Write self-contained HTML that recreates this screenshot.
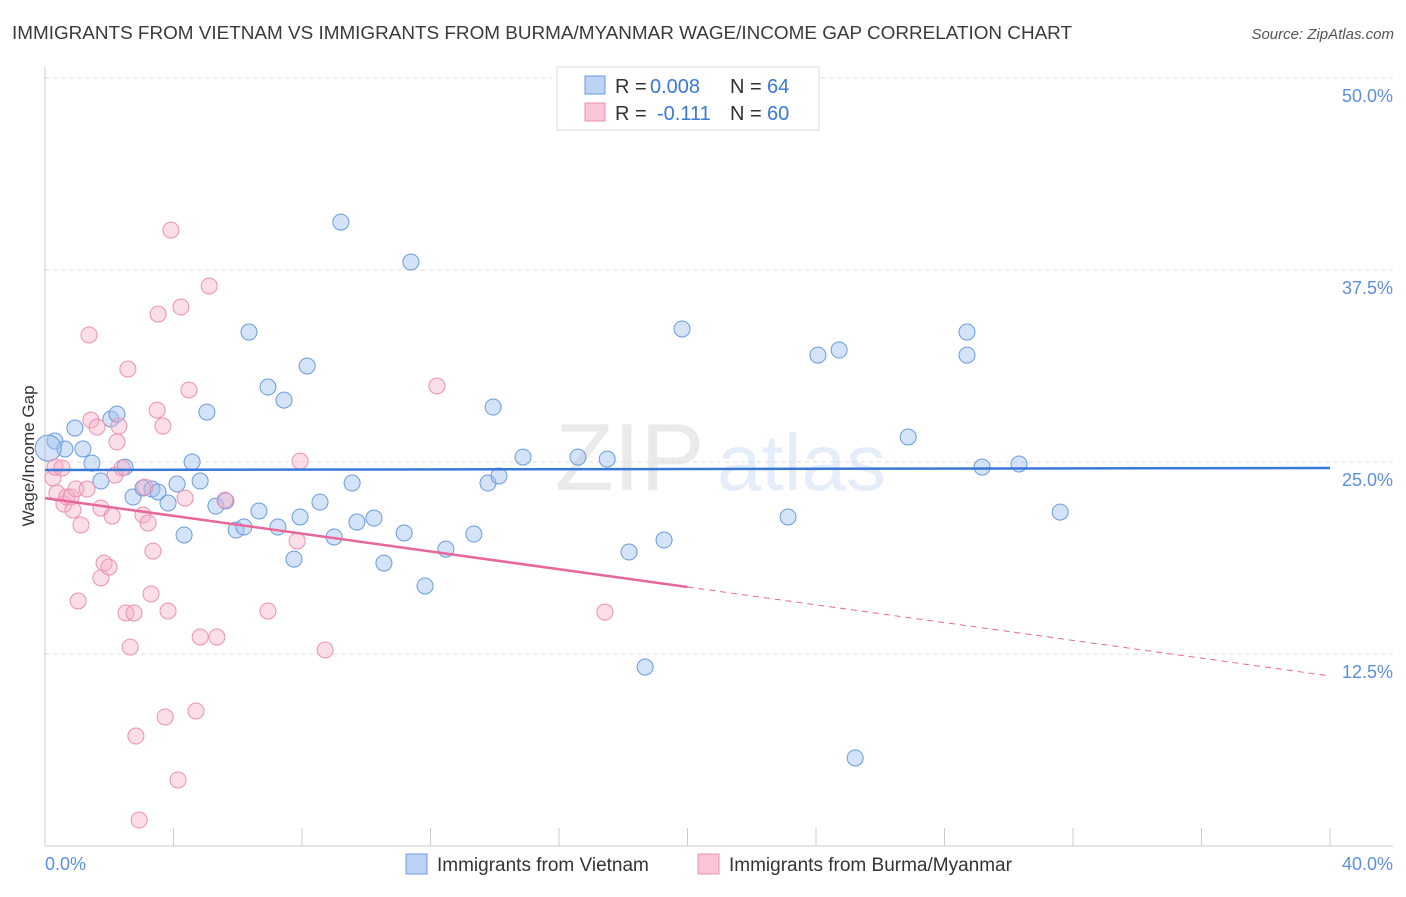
<!DOCTYPE html>
<html><head><meta charset="utf-8"><style>
body{margin:0;background:#fff;font-family:"Liberation Sans",sans-serif;}
svg text{font-family:"Liberation Sans",sans-serif;}
</style></head><body>
<svg id="chart" width="1406" height="892" xmlns="http://www.w3.org/2000/svg">
<text x="12" y="39" font-size="18.9" fill="#3a3a3a">IMMIGRANTS FROM VIETNAM VS IMMIGRANTS FROM BURMA/MYANMAR WAGE/INCOME GAP CORRELATION CHART</text>
<text x="1394" y="39" font-size="15" fill="#555" text-anchor="end" font-style="italic">Source: ZipAtlas.com</text>
<g opacity="0.13">
<text x="555" y="490" font-size="96" font-family="Liberation Serif" fill="#666">ZIP</text>
<text x="717" y="490" font-size="80" fill="#3a78d8">atlas</text>
</g>
<g id="grid"></g>
<g id="axes"></g>
<g id="marks"></g>
<text transform="translate(34,456) rotate(-90)" font-size="17" fill="#333" text-anchor="middle">Wage/Income Gap</text>
<g>
<rect x="557" y="67" width="262" height="63" fill="#fff" stroke="#ddd"/>
<rect x="585" y="76" width="20" height="18" fill="#bcd3f5" stroke="#6a9be0"/>
<rect x="585" y="103" width="20" height="18" fill="#f8c6d6" stroke="#ee90b0"/>
<text x="615" y="93" font-size="20" fill="#333">R =</text>
<text x="650" y="93" font-size="20" fill="#3a78d8">0.008</text>
<text x="730" y="93" font-size="20" fill="#333">N =</text>
<text x="767" y="93" font-size="20" fill="#3a78d8">64</text>
<text x="615" y="120" font-size="20" fill="#333">R =</text>
<text x="657" y="120" font-size="20" fill="#3a78d8">-0.111</text>
<text x="730" y="120" font-size="20" fill="#333">N =</text>
<text x="767" y="120" font-size="20" fill="#3a78d8">60</text>
</g>
<g>
<rect x="406" y="854" width="21" height="20" fill="#bcd3f5" stroke="#6a9be0"/>
<text x="437" y="871" font-size="19" fill="#333">Immigrants from Vietnam</text>
<rect x="698" y="854" width="21" height="20" fill="#f8c6d6" stroke="#ee90b0"/>
<text x="729" y="871" font-size="19" fill="#333">Immigrants from Burma/Myanmar</text>
</g>
</svg>
<script>
const yTicks=[12.5,25,37.5,50];
const yTickLabels=["12.5%","25.0%","37.5%","50.0%"];
const xTickLabels=["0.0%","40.0%"];
const blueX=[0.31,0.62,0.93,1.18,1.46,1.74,2.05,2.24,2.49,2.74,3.05,3.33,3.52,3.83,4.11,4.33,4.58,4.83,5.04,5.32,5.63,5.95,6.19,6.35,6.66,6.94,7.25,7.44,7.75,7.94,8.16,8.56,9.0,9.21,9.56,9.71,10.24,10.55,11.18,11.39,11.83,12.48,13.35,13.79,13.95,14.13,14.88,16.59,17.5,18.18,18.68,19.27,19.83,23.13,24.06,24.72,25.22,26.87,28.7,28.7,29.17,30.32,31.6,0.1];
const blueY=[26.37,25.85,27.21,25.85,24.93,23.76,27.8,28.12,24.67,22.72,23.31,23.24,23.05,22.33,23.57,20.25,25.0,23.76,28.25,22.13,22.46,20.57,20.77,33.46,21.81,29.88,20.77,29.03,18.68,21.42,31.25,22.39,20.12,40.62,23.63,21.09,21.35,18.42,20.38,38.02,16.93,19.33,20.31,23.63,28.58,24.09,25.32,25.32,25.19,19.14,11.65,19.92,33.66,21.42,31.96,32.29,5.73,26.63,33.46,31.96,24.67,24.87,21.74,25.9];
const pinkX=[0.25,0.31,0.53,0.37,0.59,0.68,0.81,0.87,0.96,1.03,1.12,1.31,1.37,1.43,1.62,1.74,1.74,1.84,1.99,2.09,2.18,2.24,2.3,2.4,2.52,2.58,2.65,2.77,2.83,2.93,3.05,3.11,3.21,3.3,3.36,3.49,3.52,3.67,3.74,3.83,3.92,4.14,4.23,4.36,4.48,4.7,4.83,5.11,5.35,5.6,6.94,7.85,7.94,8.72,12.2,17.43];
const pinkY=[23.96,24.67,24.61,22.98,22.26,22.72,22.72,21.87,23.24,15.95,20.9,23.24,33.27,27.73,27.28,17.45,22.0,18.42,18.16,21.48,24.15,26.3,27.34,24.61,15.17,31.05,12.95,15.17,7.16,1.69,21.55,23.37,21.03,16.41,19.2,28.38,34.63,27.34,8.4,15.3,40.1,4.3,35.09,22.65,29.69,8.79,13.61,36.46,13.61,22.52,15.3,19.86,25.06,12.76,29.95,15.23];
const blueTrend=[24.48,24.61];
const pinkTrend=[22.65,11.07];
const pinkSolidEnd=20;

const NS="http://www.w3.org/2000/svg";
const X0=45,X1=1330,Y0=846,PXPER=192/12.5;
const sx=v=>X0+v/40*(X1-X0);
const sy=v=>Y0-v*PXPER;
function mk(tag,attrs,parent){const e=document.createElementNS(NS,tag);for(const k in attrs)e.setAttribute(k,attrs[k]);document.getElementById(parent).appendChild(e);return e;}

yTicks.forEach((t,i)=>{
 const g=mk('line',{x1:X0,x2:1393,y1:sy(t),y2:sy(t),stroke:'#ddd','stroke-dasharray':'4,4'},'grid');
 
 
 const l=mk('text',{x:1393,y:sy(t)+24,'font-size':18,fill:'#5b8ee0','text-anchor':'end'},'axes');
 l.textContent=yTickLabels[i];
 
 
});
const ax=mk('line',{x1:X0,x2:1393,y1:Y0,y2:Y0,stroke:'#ccc'},'axes');


const ay=mk('line',{x1:X0,x2:X0,y1:67,y2:Y0,stroke:'#ccc'},'axes');


for(let i=0;i<=10;i++){
 const t=mk('line',{x1:sx(i*4),x2:sx(i*4),y1:Y0,y2:Y0-18,stroke:'#ccc'},'axes');
 
 
}
[[0,'start',45],[40,'end',1393]].forEach((d,i)=>{
 const l=mk('text',{x:d[2],y:870,'font-size':18,fill:'#5b8ee0','text-anchor':d[1]},'axes');
 l.textContent=xTickLabels[i];
 
 
});
blueX.forEach((x,i)=>{
 const c=mk('circle',{cx:sx(x),cy:sy(blueY[i]),r:i===blueX.length-1?13:8,fill:'rgba(160,192,240,0.45)',stroke:'#6a9be0','stroke-width':1},'marks');
 
 
});
pinkX.forEach((x,i)=>{
 const c=mk('circle',{cx:sx(x),cy:sy(pinkY[i]),r:8,fill:'rgba(245,172,198,0.4)',stroke:'#ee90b0','stroke-width':1},'marks');
 
 
});
const bt=mk('line',{x1:sx(0),y1:sy(blueTrend[0]),x2:sx(40),y2:sy(blueTrend[1]),stroke:'#3a78d8','stroke-width':2.5},'marks');


const pm=pinkTrend[0]+(pinkTrend[1]-pinkTrend[0])*pinkSolidEnd/40;
const pt=mk('line',{x1:sx(0),y1:sy(pinkTrend[0]),x2:sx(pinkSolidEnd),y2:sy(pm),stroke:'#e8679a','stroke-width':2.5},'marks');


const pd=mk('line',{x1:sx(pinkSolidEnd),y1:sy(pm),x2:sx(40),y2:sy(pinkTrend[1]),stroke:'#e8679a','stroke-width':1,'stroke-dasharray':'6,5'},'marks');


</script>
</body></html>
